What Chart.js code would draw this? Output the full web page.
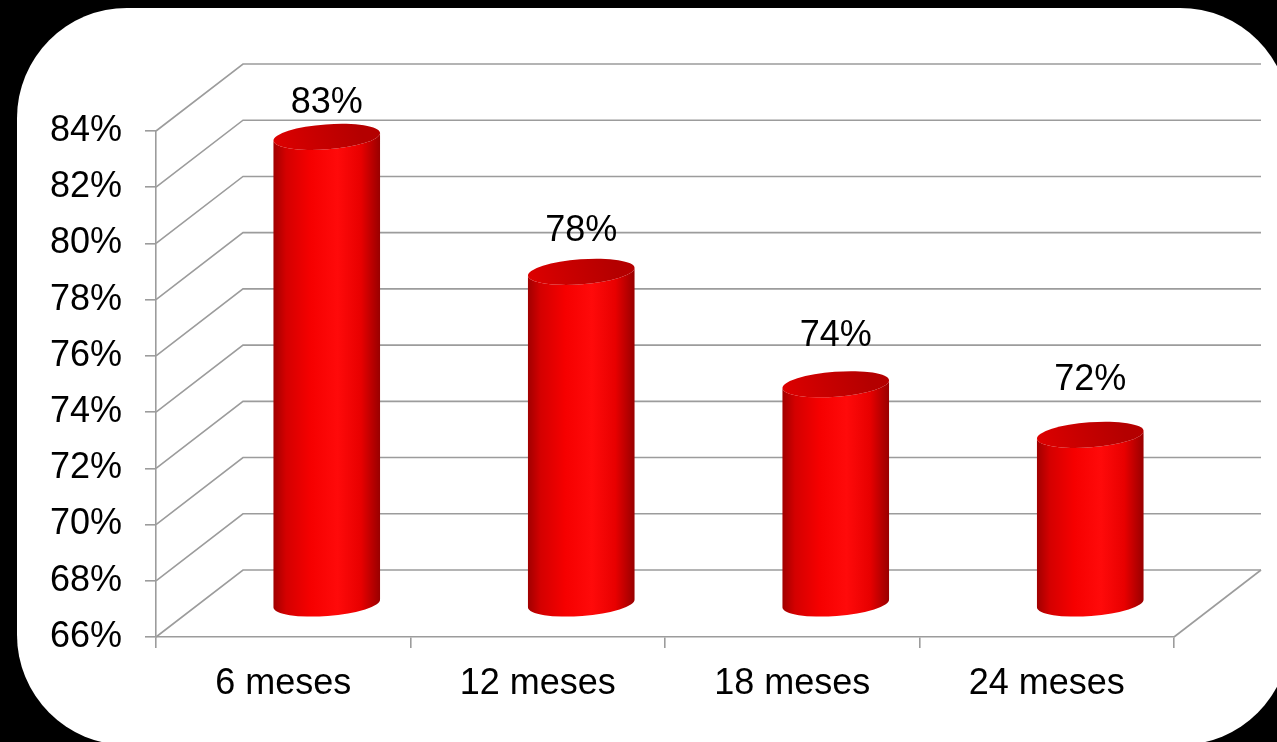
<!DOCTYPE html>
<html>
<head>
<meta charset="utf-8">
<script src="https://cdn.jsdelivr.net/npm/chart.js@4/dist/chart.umd.min.js"></script>
<style>
  html, body { margin:0; padding:0; width:1277px; height:742px; overflow:hidden; background:#000; }
  #panel { position:absolute; left:17px; top:8px; width:1273px; height:737px; background:#fff; border-radius:110px; }
  #wrap { position:absolute; left:0; top:0; width:1277px; height:742px; }
</style>
</head>
<body>
<div id="panel"></div>
<div id="wrap"><canvas id="c" width="1277" height="742"></canvas></div>
<script>
const categories = ['6 meses', '12 meses', '18 meses', '24 meses'];
const values = [82.6, 77.8, 73.8, 72.0];
const yMin = 66;
const yMax = 84;
const yStep = 2;

const FONT = '"Liberation Sans", Arial, sans-serif';
const GRID = '#9c9c9c';
const DX = 87, DY = -67;

const wallPlugin = {
  id: 'walls',
  beforeDatasetsDraw(chart) {
    const { ctx, chartArea: { left, right, bottom }, scales: { y } } = chart;
    ctx.save();
    ctx.strokeStyle = GRID;
    ctx.lineWidth = 1.6;
    y.ticks.forEach(t => {
      const py = y.getPixelForValue(t.value);
      ctx.beginPath();
      ctx.moveTo(left, py);
      ctx.lineTo(left + DX, py + DY);
      ctx.lineTo(right + DX, py + DY);
      ctx.stroke();
    });
    ctx.beginPath();
    ctx.moveTo(right, bottom);
    ctx.lineTo(right + DX, bottom + DY);
    ctx.stroke();
    ctx.restore();
  }
};

const cylinderPlugin = {
  id: 'cylinders',
  afterDatasetsDraw(chart) {
    const { ctx, scales: { x, y } } = chart;
    const slot = x.width / categories.length;
    const rx = slot * 0.21;
    const ry = 12.5;
    const rot = -0.075;
    values.forEach((v, i) => {
      const cx = x.getPixelForValue(i) + DX / 2;
      const topY = y.getPixelForValue(v) + DY / 2;
      const baseY = y.getPixelForValue(yMin) + DY / 2;
      ctx.save();
      const g = ctx.createLinearGradient(cx - rx, 0, cx + rx, 0);
      g.addColorStop(0, '#a00000');
      g.addColorStop(0.12, '#d40000');
      g.addColorStop(0.35, '#f60000');
      g.addColorStop(0.6, '#ff0a0a');
      g.addColorStop(0.82, '#e80000');
      g.addColorStop(1, '#980000');
      ctx.beginPath();
      ctx.ellipse(cx, topY, rx, ry, rot, Math.PI, Math.PI, false);
      ctx.ellipse(cx, baseY, rx, ry, rot, Math.PI, 0, true);
      ctx.ellipse(cx, topY, rx, ry, rot, 0, Math.PI, false);
      ctx.closePath();
      ctx.fillStyle = g;
      ctx.fill();
      const tg = ctx.createLinearGradient(cx - rx, topY + ry, cx + rx * 0.6, topY - ry);
      tg.addColorStop(0, '#de0000');
      tg.addColorStop(0.5, '#c80000');
      tg.addColorStop(1, '#b40000');
      ctx.beginPath();
      ctx.ellipse(cx, topY, rx, ry, rot, 0, Math.PI * 2);
      ctx.fillStyle = tg;
      ctx.fill();
      ctx.fillStyle = '#000';
      ctx.font = '36px ' + FONT;
      ctx.textAlign = 'center';
      ctx.textBaseline = 'middle';
      ctx.fillText(Math.round(v) + '%', cx, topY - (34 + 7 * i));
      ctx.restore();
    });
  }
};

new Chart(document.getElementById('c'), {
  type: 'bar',
  data: {
    labels: categories,
    datasets: [{ data: values, backgroundColor: 'rgba(0,0,0,0)', borderWidth: 0 }]
  },
  options: {
    responsive: false,
    animation: false,
    events: [],
    layout: { padding: { top: 131, right: 103, left: 0, bottom: 0 } },
    plugins: { legend: { display: false }, tooltip: { enabled: false } },
    scales: {
      y: {
        min: yMin, max: yMax,
        ticks: {
          stepSize: yStep,
          color: '#000',
          font: { family: FONT, size: 36 },
          padding: 23,
          callback: v => v + '%'
        },
        grid: { drawOnChartArea: false, color: GRID, tickLength: 11, lineWidth: 1.6 },
        border: { color: GRID, width: 1.6 },
        afterFit: s => { s.width = 156; }
      },
      x: {
        ticks: { color: '#000', font: { family: FONT, size: 36 }, padding: 14 },
        grid: { drawOnChartArea: false, color: GRID, tickLength: 11, lineWidth: 1.6, offset: true },
        border: { color: GRID, width: 1.6 },
        afterFit: s => { s.height = 105; }
      }
    }
  },
  plugins: [wallPlugin, cylinderPlugin]
});
</script>
</body>
</html>
